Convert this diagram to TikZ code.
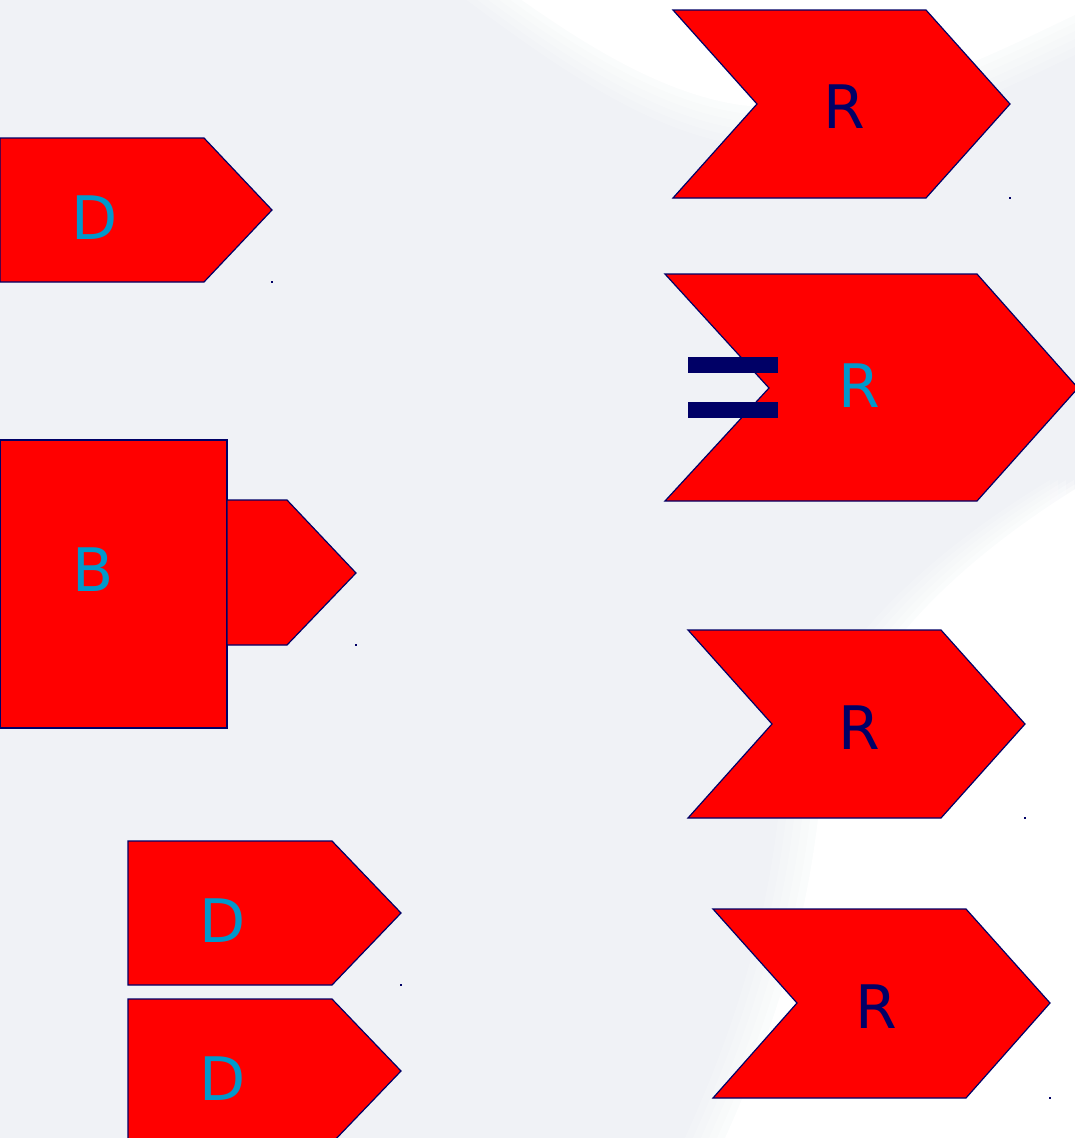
\documentclass[tikz,border=0pt]{standalone}
\usepackage{fontspec}
\setmainfont{DejaVu Sans}
\usepackage{tikz}
\definecolor{paper}{HTML}{F0F2F6}
\definecolor{ink}{HTML}{000066}
\definecolor{blockred}{HTML}{FF0000}
\definecolor{cyanlabel}{HTML}{0099CC}

\begin{document}
\begin{tikzpicture}[x=1pt,y=-1pt,
  block/.style={fill=blockred,draw=ink,line width=1.2pt,line join=miter},
  lightlabel/.style={text=cyanlabel,font=\fontsize{60}{72}\selectfont,inner sep=0pt},
  darklabel/.style={text=ink,font=\fontsize{60}{72}\selectfont,inner sep=0pt},
  bar/.style={fill=ink,draw=none},
  corner/.style={fill=ink,draw=none,minimum size=1.5pt,inner sep=0pt}]
\useasboundingbox (0,0) rectangle (1075,1138);
\fill[paper] (0,0) rectangle (1075,1138);
% soft white swirl
\foreach \s/\o in {40/0.18,32/0.22,24/0.26,16/0.3,8/0.4,0/1} {
  \fill[white,opacity=\o,yshift=-\s pt] (440,-60) .. controls (540,15) and (640,90) .. (740,105)
    .. controls (870,120) and (990,55) .. (1075,15) -- (1075,-60) -- cycle;
  \fill[white,opacity=\o,xshift=-\s pt] (1090,480) .. controls (940,570) and (840,680) .. (820,800)
    .. controls (805,950) and (760,1060) .. (725,1138) -- (1090,1138) -- cycle;
}
% left side
\draw[block] (0,138) -- (204,138) -- (272,210) -- (204,282) -- (0,282) -- cycle;
\node[lightlabel] (d1) at (95,218) {D};
\draw[block] (0,440) rectangle (227,728);
\draw[block] (227,500) -- (287,500) -- (356,573) -- (287,645) -- (227,645) -- cycle;
\node[lightlabel] (b1) at (93,570) {B};
\draw[block] (128,841) -- (332,841) -- (401,913) -- (332,985) -- (128,985) -- cycle;
\node[lightlabel] (d2) at (223,921) {D};
\draw[block] (128,999) -- (332,999) -- (401,1071) -- (332,1143) -- (128,1143) -- cycle;
\node[lightlabel] (d3) at (223,1079) {D};
% right side
\draw[block] (673,10) -- (926,10) -- (1010,104) -- (926,198) -- (673,198) -- (757,104) -- cycle;
\node[darklabel] (r1) at (844,107) {R};
\draw[block] (665,274) -- (977,274) -- (1078,388) -- (977,501) -- (665,501) -- (769,388) -- cycle;
\node[lightlabel] (r2) at (859,386) {R};
\fill[bar] (688,357) rectangle (778,373);
\fill[bar] (688,402) rectangle (778,418);
\draw[block] (688,630) -- (941,630) -- (1025,724) -- (941,818) -- (688,818) -- (772,724) -- cycle;
\node[darklabel] (r3) at (859,728) {R};
\draw[block] (713,909) -- (966,909) -- (1050,1003) -- (966,1098) -- (713,1098) -- (797,1003) -- cycle;
\node[darklabel] (r4) at (876,1007) {R};
% corner marks
\foreach \p in {(1010,198),(272,282),(356,645),(1025,818),(401,985),(1050,1098)}
  \node[corner] at \p {};
\end{tikzpicture}
\end{document}
